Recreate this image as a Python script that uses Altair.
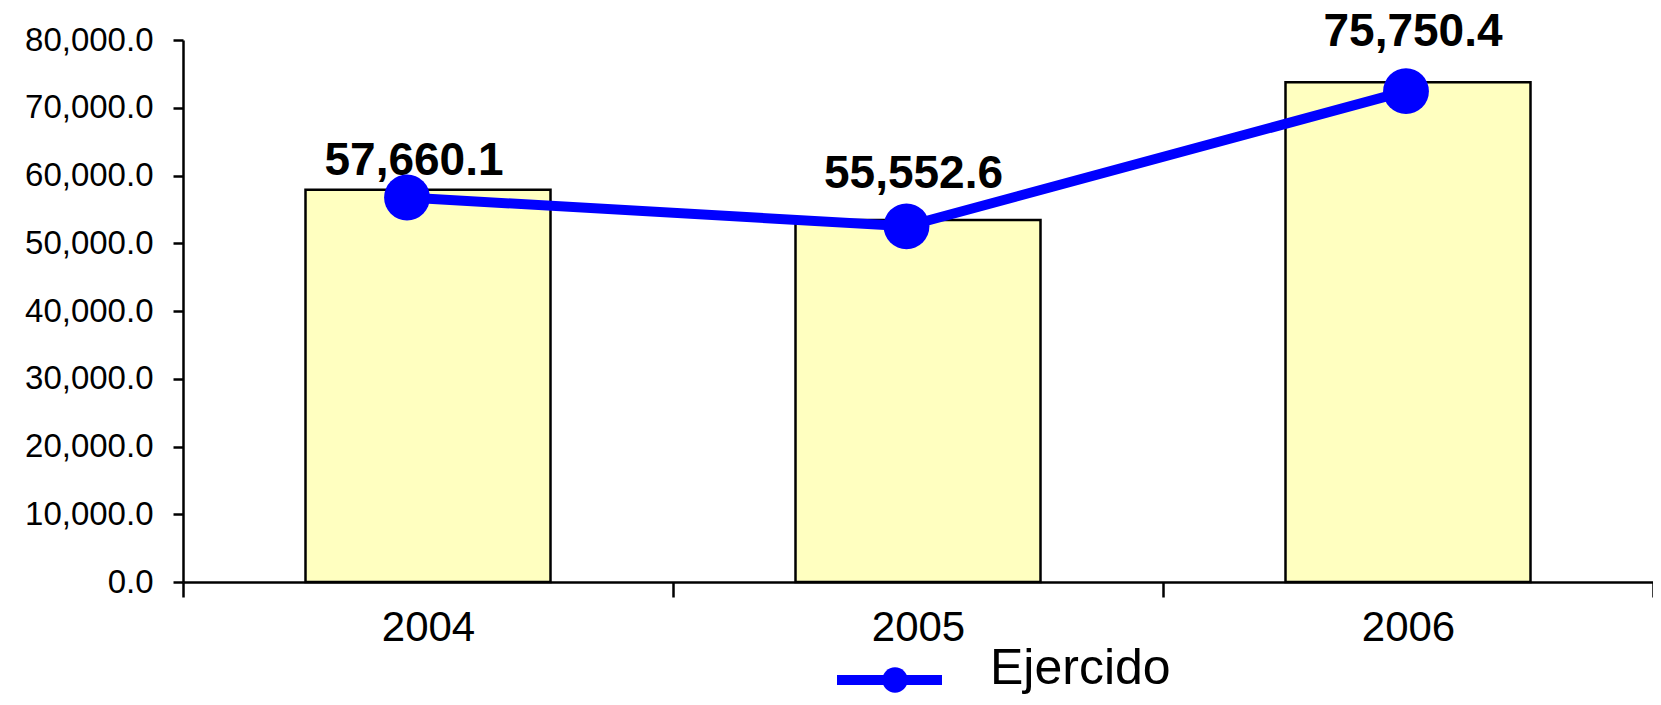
import altair as alt
import pandas as pd

# ---- data ----
years = ["2004", "2005", "2006"]
bar_values = [57900, 53450, 73750]          # yellow bars
ejercido_values = [56750, 52500, 72450]      # blue line "Ejercido"
ejercido_labels = ["57,660.1", "55,552.6", "75,750.4"]
series_name = "Ejercido"
y_ticks = [0, 10000, 20000, 30000, 40000, 50000, 60000, 70000, 80000]

df = pd.DataFrame({
    "year": years,
    "bar": bar_values,
    "ejercido": ejercido_values,
    "label": ejercido_labels,
})
legend_df = pd.DataFrame({"name": [series_name]})

FONT = "Liberation Sans"
W, H = 1470, 542
BLUE = "#0000FF"

x_scale = alt.Scale(domain=years, paddingInner=0, paddingOuter=0)
x_axis = alt.Axis(
    labelAngle=0, labelFont=FONT, labelFontSize=42, labelColor="black",
    labelPadding=10, tickBand="extent", tickSize=15, tickWidth=2.5,
    tickColor="black", domainColor="black", domainWidth=2.5, grid=False,
)
# the line series sits on slightly shifted category positions in the original
line_x_scale = alt.Scale(type="point", domain=years, range=[224, 1223], padding=0)

y_scale = alt.Scale(domain=[0, 80000], nice=False, zero=True)
y_axis = alt.Axis(
    values=y_ticks, format=",.1f", labelFont=FONT, labelFontSize=33,
    labelColor="black", labelPadding=20, tickSize=10, tickWidth=2.5,
    tickColor="black", domainColor="black", domainWidth=2.5, grid=False,
)


def X():
    return alt.X("year:N", title=None, sort=years, scale=x_scale, axis=x_axis)


def XL():
    return alt.X("year:O", title=None, sort=years, scale=line_x_scale, axis=None)


def Y(field):
    return alt.Y(f"{field}:Q", title=None, scale=y_scale, axis=y_axis)


base = alt.Chart(df)

bars = base.mark_bar(
    width=alt.RelativeBandSize(0.5), fill="#FFFFC0", stroke="black", strokeWidth=2.5
).encode(x=X(), y=Y("bar"))

line = base.mark_line(color=BLUE, strokeWidth=10).encode(x=XL(), y=Y("ejercido"))

points = base.mark_circle(color=BLUE, size=2100, opacity=1).encode(
    x=XL(), y=Y("ejercido")
)

label_layers = []
for yr, dy in zip(years, [-37, -52, -59]):
    label_layers.append(
        base.transform_filter(alt.datum.year == yr)
        .mark_text(font=FONT, fontSize=46, fontWeight="bold", color="black",
                   baseline="middle", align="center", dx=7, dy=dy)
        .encode(x=XL(), y=Y("ejercido"), text="label:N")
    )

# manual legend below the plot
leg = alt.Chart(legend_df)
leg_line = leg.mark_rule(color=BLUE, strokeWidth=10).encode(
    x=alt.value(654), x2=alt.value(759), y=alt.value(640)
)
leg_point = leg.mark_circle(color=BLUE, size=640, opacity=1).encode(
    x=alt.value(712), y=alt.value(640)
)
leg_text = leg.mark_text(font=FONT, fontSize=50, color="black", align="left",
                         baseline="alphabetic").encode(
    x=alt.value(807), y=alt.value(644), text="name:N"
)

chart = alt.layer(
    bars, line, *label_layers, points, leg_line, leg_point, leg_text
).resolve_scale(
    x="independent"
).properties(
    width=W, height=H,
    padding={"left": 175, "top": 32, "right": 0, "bottom": 114},
    autosize=alt.AutoSizeParams(type="none"),
    background="white",
).configure_view(stroke=None)

chart.save("out.html", embed_options={"renderer": "svg", "actions": False})
